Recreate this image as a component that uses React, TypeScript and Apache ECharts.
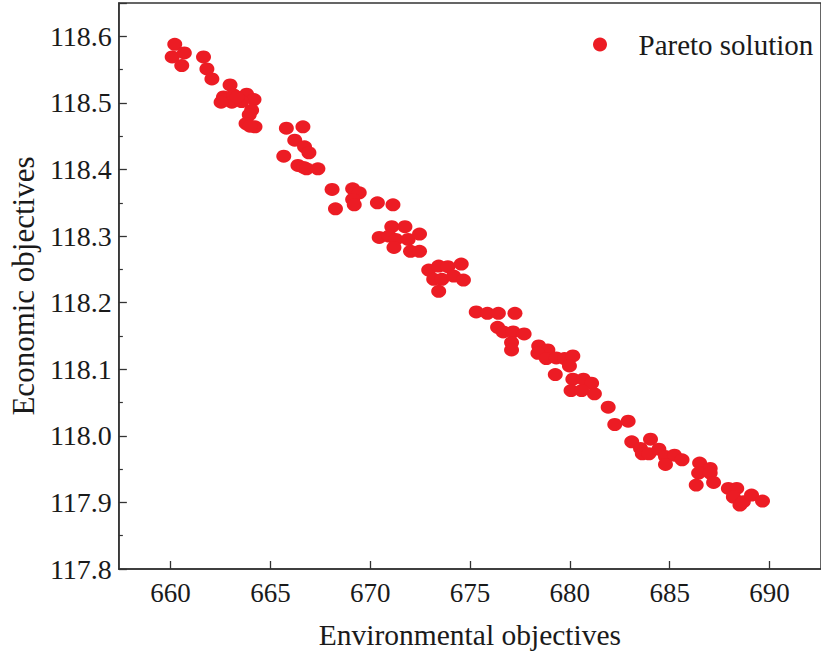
import React, { useEffect, useRef } from "react";
import * as echarts from "echarts";

const seriesName = "Pareto solution";
const xAxisName = "Environmental objectives";
const yAxisName = "Economic objectives";

const envObjectives = [
  660.21, 660.08, 660.69, 660.56, 661.65, 661.82, 662.07, 662.98, 662.65, 663.15,
  663.81, 664.18, 663.07, 663.56, 662.53, 663.33, 664.06, 663.94, 663.78, 664.23,
  663.98, 665.8, 666.63, 666.22, 666.71, 666.93, 665.67, 666.38, 666.66, 666.81,
  667.38, 668.09, 669.12, 669.45, 669.12, 669.2, 668.26, 670.36, 671.14, 671.08,
  671.74, 670.45, 670.94, 671.28, 671.9, 672.47, 671.19, 672.02, 672.47, 672.93,
  673.43, 673.89, 674.56, 673.18, 673.59, 674.18, 674.67, 673.43, 675.31, 675.87,
  676.42, 677.25, 676.38, 676.66, 677.16, 677.71, 677.08, 677.08, 678.44, 678.9,
  678.4, 678.82, 679.32, 679.73, 680.15, 679.98, 679.27, 680.15, 680.68, 681.09,
  680.06, 680.59, 681.23, 681.92, 682.25, 682.92, 683.1, 684.04, 683.54, 683.63,
  683.96, 684.46, 684.79, 685.24, 684.79, 685.62, 686.5, 687.03, 686.45, 687.03,
  687.2, 686.33, 687.94, 688.36, 688.19, 688.52, 688.69, 689.1, 689.65,
];

const econObjectives = [
  118.588, 118.569, 118.575, 118.556, 118.569, 118.551, 118.536, 118.527, 118.509, 118.512,
  118.513, 118.505, 118.501, 118.502, 118.501, 118.509, 118.489, 118.482, 118.469, 118.464,
  118.465, 118.462, 118.464, 118.444, 118.434, 118.425, 118.42, 118.406, 118.403, 118.401,
  118.401, 118.37, 118.371, 118.365, 118.355, 118.347, 118.341, 118.35, 118.347, 118.314,
  118.314, 118.298, 118.3, 118.295, 118.295, 118.303, 118.283, 118.277, 118.277, 118.249,
  118.255, 118.254, 118.258, 118.235, 118.235, 118.24, 118.234, 118.217, 118.186, 118.184,
  118.184, 118.184, 118.163, 118.156, 118.156, 118.153, 118.14, 118.129, 118.135, 118.129,
  118.124, 118.116, 118.117, 118.116, 118.12, 118.105, 118.092, 118.085, 118.085, 118.079,
  118.068, 118.068, 118.063, 118.043, 118.017, 118.022, 117.991, 117.995, 117.981, 117.973,
  117.973, 117.98, 117.969, 117.971, 117.957, 117.964, 117.959, 117.951, 117.944, 117.944,
  117.93, 117.926, 117.921, 117.921, 117.908, 117.896, 117.901, 117.911, 117.902,
];

const xMin = 657.41;
const xMax = 692.58;
const yMin = 117.8;
const yMax = 118.65;

const FONT = "Liberation Serif";
const AXIS_COLOR = "#333333";
const TEXT_COLOR = "#1a1a1a";
const RED = "#EC1C24";

export default function App() {
  const ref = useRef<HTMLDivElement>(null);

  useEffect(() => {
    if (!ref.current) return;
    const chart = echarts.init(ref.current, null, { renderer: "svg" });
    const data = envObjectives.map((x, i) => [x, econObjectives[i]]);
    chart.setOption({
      animation: false,
      backgroundColor: "#ffffff",
      textStyle: { fontFamily: FONT },
      grid: {
        left: 118,
        top: 3,
        right: -4,
        bottom: 84,
        show: true,
        borderColor: AXIS_COLOR,
        borderWidth: 1.5,
        backgroundColor: "transparent",
      },
      legend: {
        show: true,
        left: 588,
        top: 25,
        itemWidth: 15,
        itemHeight: 14,
        icon: "circle",
        data: [seriesName],
        textStyle: {
          fontFamily: FONT,
          fontSize: 29,
          color: TEXT_COLOR,
          padding: [0, 0, 0, 26],
        },
      },
      xAxis: {
        type: "value",
        min: xMin,
        max: xMax,
        splitNumber: 7,
        name: xAxisName,
        nameLocation: "middle",
        nameGap: 51,
        nameTextStyle: { fontFamily: FONT, fontSize: 29.5, color: TEXT_COLOR },
        axisLine: { show: true, lineStyle: { color: AXIS_COLOR, width: 1.5 } },
        axisTick: { show: true, inside: true, length: 8, lineStyle: { color: AXIS_COLOR, width: 1.3 } },
        axisLabel: {
          fontFamily: FONT,
          fontSize: 27,
          color: TEXT_COLOR,
          margin: 10,
          showMinLabel: false,
          showMaxLabel: false,
          formatter: (v: number) =>
            Math.abs(v / 5 - Math.round(v / 5)) < 1e-6 ? String(Math.round(v)) : "",
        },
        splitLine: { show: false },
      },
      yAxis: {
        type: "value",
        min: yMin,
        max: yMax,
        interval: 0.1,
        name: yAxisName,
        nameLocation: "middle",
        nameGap: 78,
        nameTextStyle: { fontFamily: FONT, fontSize: 31, color: TEXT_COLOR },
        axisLine: { show: true, lineStyle: { color: AXIS_COLOR, width: 1.5 } },
        axisTick: { show: true, inside: true, length: 8, lineStyle: { color: AXIS_COLOR, width: 1.3 } },
        minorTick: { show: true, splitNumber: 2, length: 4, lineStyle: { color: AXIS_COLOR, width: 1.2 } },
        axisLabel: {
          fontFamily: FONT,
          fontSize: 28,
          color: TEXT_COLOR,
          margin: 7,
          showMaxLabel: false,
          formatter: (v: number) => (v > 118.62 ? "" : v.toFixed(1)),
        },
        splitLine: { show: false },
      },
      series: [
        {
          name: seriesName,
          type: "scatter",
          data,
          symbol: "circle",
          symbolSize: [15, 13],
          itemStyle: { color: RED, opacity: 1 },
        },
      ],
    });
    return () => chart.dispose();
  }, []);

  return (
    <div
      ref={ref}
      style={{ position: "fixed", left: 0, top: 0, width: 821, height: 655, background: "#fff" }}
    />
  );
}
